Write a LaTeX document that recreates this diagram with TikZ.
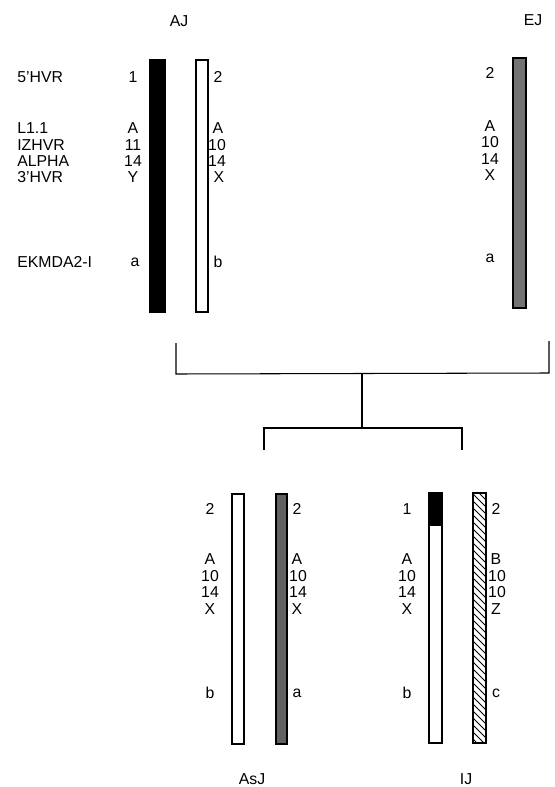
\documentclass[tikz,border=0pt]{standalone}
\usepackage{fontspec}
\setmainfont{Liberation Sans}
\usetikzlibrary{calc}

\tikzset{
    lbl/.style={inner sep=0pt, font=\fontsize{9}{10}\selectfont},
    mkname/.style={lbl, anchor=west},
    bar/.style={draw=black, line width=0.6pt},
    tree/.style={draw=black, line width=0.6pt}
}

\begin{document}
\begin{tikzpicture}[x=0.02cm, y=-0.02cm, line join=miter]

    \useasboundingbox (0,0) rectangle (554,787);

    % Cabeceras
    \node[lbl] (hAJ) at (179,21) {AJ};
    \node[lbl] (hEJ) at (533,20) {EJ};

    % Nombres de los marcadores
    \node[mkname] (n1) at (17,77)  {5'HVR};
    \node[mkname] (n2) at (17,128) {L1.1};
    \node[mkname] (n3) at (17,145) {IZHVR};
    \node[mkname] (n4) at (17,161) {ALPHA};
    \node[mkname] (n5) at (17,177) {3'HVR};
    \node[mkname] (n6) at (17,262) {EKMDA2-I};

    % Cromosomas de AJ
    \fill[black] (150,60) rectangle (165,312);
    \draw[bar] (150,60) rectangle (165,312);
    \draw[bar, fill=white] (196,60) rectangle (208,312);

    \node[lbl] (aj1a) at (133,77)  {1};
    \node[lbl] (aj1b) at (133,128) {A};
    \node[lbl] (aj1c) at (133,145) {11};
    \node[lbl] (aj1d) at (133,161) {14};
    \node[lbl] (aj1e) at (133,177) {Y};
    \node[lbl] (aj1f) at (135,262) {a};

    \node[lbl] (aj2a) at (218,77)  {2};
    \node[lbl] (aj2b) at (218,128) {A};
    \node[lbl] (aj2c) at (217,145) {10};
    \node[lbl] (aj2d) at (217,161) {14};
    \node[lbl] (aj2e) at (219,177) {X};
    \node[lbl] (aj2f) at (218,262) {b};

    % Cromosoma de EJ
    \draw[bar, fill=black!55] (513,58) rectangle (526,308);

    \node[lbl] (ej1a) at (490,73)  {2};
    \node[lbl] (ej1b) at (490,126) {A};
    \node[lbl] (ej1c) at (490,142) {10};
    \node[lbl] (ej1d) at (490,159) {14};
    \node[lbl] (ej1e) at (490,175) {X};
    \node[lbl] (ej1f) at (490,258) {a};

    % Cruce
    \coordinate (pA) at (176,343);
    \coordinate (pE) at (549,341);
    \coordinate (pAb) at (176,374);
    \coordinate (pEb) at (549,373);
    \coordinate (mid) at ($(pAb)!0.5!(pEb)$);
    \coordinate (mid2) at (362,428);
    \coordinate (cL) at (264,428);
    \coordinate (cR) at (462,428);
    \coordinate (cLb) at (264,450);
    \coordinate (cRb) at (462,450);

    \draw[tree] (pA) -- (pAb) -- (pEb) -- (pE);
    \draw[tree] (mid2 |- mid) -- (mid2);
    \draw[tree] (cLb) -- (cL) -- (cR) -- (cRb);

    % Cromosomas de AsJ
    \draw[bar, fill=white] (232,494) rectangle (244,744);
    \draw[bar, fill=black!62] (276,494) rectangle (287,744);

    \node[lbl] (as1a) at (210,509) {2};
    \node[lbl] (as1b) at (210,559) {A};
    \node[lbl] (as1c) at (210,576) {10};
    \node[lbl] (as1d) at (210,592) {14};
    \node[lbl] (as1e) at (210,609) {X};
    \node[lbl] (as1f) at (210,693) {b};

    \node[lbl] (as2a) at (297,509) {2};
    \node[lbl] (as2b) at (297,559) {A};
    \node[lbl] (as2c) at (298,576) {10};
    \node[lbl] (as2d) at (298,592) {14};
    \node[lbl] (as2e) at (297,609) {X};
    \node[lbl] (as2f) at (297,693) {a};

    % Cromosomas de IJ
    \draw[bar, fill=white] (429,493) rectangle (442,743);
    \fill[black] (429,493) rectangle (442,526);
    \begin{scope}
        \clip (473,493) rectangle (486,743);
        \foreach \k in {480,487,...,750}
            \draw[line width=0.45pt] (473,\k) -- ++(16,16);
    \end{scope}
    \draw[bar] (473,493) rectangle (486,743);

    \node[lbl] (ij1a) at (407,509) {1};
    \node[lbl] (ij1b) at (407,559) {A};
    \node[lbl] (ij1c) at (407,576) {10};
    \node[lbl] (ij1d) at (407,592) {14};
    \node[lbl] (ij1e) at (407,609) {X};
    \node[lbl] (ij1f) at (407,693) {b};

    \node[lbl] (ij2a) at (496,509) {2};
    \node[lbl] (ij2b) at (496,559) {B};
    \node[lbl] (ij2c) at (497,576) {10};
    \node[lbl] (ij2d) at (497,592) {10};
    \node[lbl] (ij2e) at (496,609) {Z};
    \node[lbl] (ij2f) at (496,693) {c};

    % Etiquetas inferiores
    \node[lbl] (hAsJ) at (252,779) {AsJ};
    \node[lbl] (hIJ) at (466,779) {IJ};

\end{tikzpicture}
\end{document}
